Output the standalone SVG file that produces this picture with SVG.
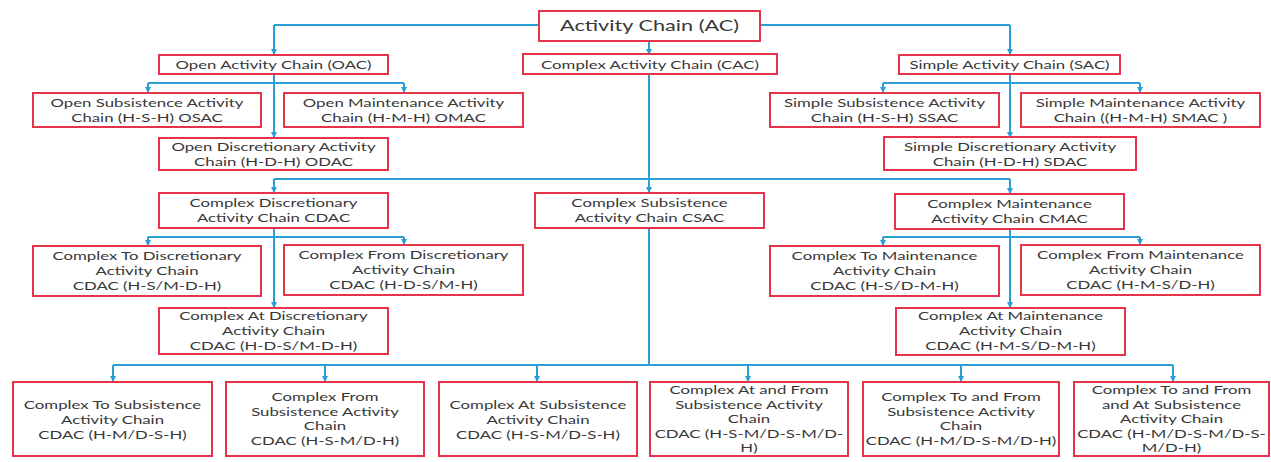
<svg xmlns="http://www.w3.org/2000/svg" width="1271" height="462" viewBox="0 0 1271 462">
<defs>
<style>
.box{fill:#ffffff;stroke:#e5344a;stroke-width:2}
.t{font-family:Lato,"Liberation Sans",sans-serif;font-size:12px;fill:#383838;text-anchor:middle}
.root{font-size:15.5px}
.c{fill:none;stroke:#2a9fd6;stroke-width:2}
.a{fill:none;stroke:#2a9fd6;stroke-width:2;marker-end:url(#ar)}
</style>
<marker id="ar" markerWidth="6" markerHeight="6" refX="5" refY="3" orient="auto" markerUnits="userSpaceOnUse">
<path d="M0,0 L6,3 L0,6 Z" fill="#2a9fd6"/>
</marker>
</defs>
<rect width="1271" height="462" fill="#ffffff"/>
<g id="connectors">
<path class="c" d="M539,25 H274"/><path class="a" d="M274,25 V54"/>
<path class="a" d="M649,41 V54"/>
<path class="c" d="M760,25 H1010"/><path class="a" d="M1010,25 V54"/>
<path class="a" d="M274,74 V137"/>
<path class="c" d="M148,83 H404"/><path class="a" d="M148,83 V92"/><path class="a" d="M404,83 V92"/>
<path class="a" d="M1010,74 V137"/>
<path class="c" d="M883,83 H1140"/><path class="a" d="M883,83 V92"/><path class="a" d="M1140,83 V92"/>
<path class="a" d="M649,74 V192"/>
<path class="c" d="M274,179 H1010"/><path class="a" d="M274,179 V192"/><path class="a" d="M1010,179 V193"/>
<path class="a" d="M274,228 V307"/>
<path class="c" d="M148,237 H404"/><path class="a" d="M148,237 V245"/><path class="a" d="M404,237 V244"/>
<path class="a" d="M1010,229 V307"/>
<path class="c" d="M883,237 H1140"/><path class="a" d="M883,237 V245"/><path class="a" d="M1140,237 V244"/>
<path class="c" d="M649,228 V365"/>
<path class="c" d="M113,365 H1173"/>
<path class="a" d="M113,365 V381"/><path class="a" d="M325,365 V381"/><path class="a" d="M537,365 V381"/>
<path class="a" d="M748,365 V381"/><path class="a" d="M961,365 V381"/><path class="a" d="M1173,365 V381"/>
</g>
<g id="ac"><rect class="box" x="539" y="11" width="221" height="30"/><g transform="translate(649.5,0) scale(1.4,1)"><text class="t root" x="0" y="31.5">Activity Chain (AC)</text></g></g>
<g id="oac"><rect class="box" x="159" y="55" width="229" height="19"/><g transform="translate(273.5,0) scale(1.4,1)"><text class="t" x="0" y="69">Open Activity Chain (OAC)</text></g></g>
<g id="cac"><rect class="box" x="523" y="54" width="254" height="20"/><g transform="translate(650,0) scale(1.4,1)"><text class="t" x="0" y="69">Complex Activity Chain (CAC)</text></g></g>
<g id="sac"><rect class="box" x="899" y="55" width="221" height="19"/><g transform="translate(1009.5,0) scale(1.4,1)"><text class="t" x="0" y="69">Simple Activity Chain (SAC)</text></g></g>
<g id="osac"><rect class="box" x="33" y="93" width="228" height="34"/><g transform="translate(147,0) scale(1.4,1)"><text class="t" x="0" y="107">Open Subsistence Activity</text><text class="t" x="0" y="122">Chain (H-S-H) OSAC</text></g></g>
<g id="omac"><rect class="box" x="284" y="93" width="239" height="34"/><g transform="translate(403.5,0) scale(1.4,1)"><text class="t" x="0" y="107">Open Maintenance Activity</text><text class="t" x="0" y="122">Chain (H-M-H) OMAC</text></g></g>
<g id="odac"><rect class="box" x="159" y="138" width="229" height="32"/><g transform="translate(273.5,0) scale(1.4,1)"><text class="t" x="0" y="151">Open Discretionary Activity</text><text class="t" x="0" y="166">Chain (H-D-H) ODAC</text></g></g>
<g id="ssac"><rect class="box" x="770" y="93" width="229" height="34"/><g transform="translate(884.5,0) scale(1.4,1)"><text class="t" x="0" y="107">Simple Subsistence Activity</text><text class="t" x="0" y="122">Chain (H-S-H) SSAC</text></g></g>
<g id="smac"><rect class="box" x="1021" y="93" width="239" height="34"/><g transform="translate(1140.5,0) scale(1.4,1)"><text class="t" x="0" y="107">Simple Maintenance Activity</text><text class="t" x="0" y="122">Chain ((H-M-H) SMAC )</text></g></g>
<g id="sdac"><rect class="box" x="884" y="137" width="252" height="33"/><g transform="translate(1010,0) scale(1.4,1)"><text class="t" x="0" y="151">Simple Discretionary Activity</text><text class="t" x="0" y="166">Chain (H-D-H) SDAC</text></g></g>
<g id="cdac"><rect class="box" x="159" y="193" width="229" height="35"/><g transform="translate(273.5,0) scale(1.4,1)"><text class="t" x="0" y="207">Complex Discretionary</text><text class="t" x="0" y="222">Activity Chain CDAC</text></g></g>
<g id="csac"><rect class="box" x="535" y="193" width="229" height="35"/><g transform="translate(649.5,0) scale(1.4,1)"><text class="t" x="0" y="207">Complex Subsistence</text><text class="t" x="0" y="222">Activity Chain CSAC</text></g></g>
<g id="cmac"><rect class="box" x="895" y="194" width="229" height="35"/><g transform="translate(1009.5,0) scale(1.4,1)"><text class="t" x="0" y="208">Complex Maintenance</text><text class="t" x="0" y="223">Activity Chain CMAC</text></g></g>
<g id="ctd"><rect class="box" x="33" y="246" width="228" height="50"/><g transform="translate(147,0) scale(1.4,1)"><text class="t" x="0" y="260.5">Complex To Discretionary</text><text class="t" x="0" y="275.5">Activity Chain</text><text class="t" x="0" y="290.5">CDAC (H-S/M-D-H)</text></g></g>
<g id="cfd"><rect class="box" x="284" y="245" width="239" height="50"/><g transform="translate(403.5,0) scale(1.4,1)"><text class="t" x="0" y="259.5">Complex From Discretionary</text><text class="t" x="0" y="274.5">Activity Chain</text><text class="t" x="0" y="289.5">CDAC (H-D-S/M-H)</text></g></g>
<g id="cad"><rect class="box" x="159" y="308" width="229" height="46"/><g transform="translate(273.5,0) scale(1.4,1)"><text class="t" x="0" y="320.5">Complex At Discretionary</text><text class="t" x="0" y="335.5">Activity Chain</text><text class="t" x="0" y="350.5">CDAC (H-D-S/M-D-H)</text></g></g>
<g id="ctm"><rect class="box" x="770" y="246" width="229" height="50"/><g transform="translate(884.5,0) scale(1.4,1)"><text class="t" x="0" y="260.5">Complex To Maintenance</text><text class="t" x="0" y="275.5">Activity Chain</text><text class="t" x="0" y="290.5">CDAC (H-S/D-M-H)</text></g></g>
<g id="cfm"><rect class="box" x="1021" y="245" width="239" height="50"/><g transform="translate(1140.5,0) scale(1.4,1)"><text class="t" x="0" y="259.5">Complex From Maintenance</text><text class="t" x="0" y="274.5">Activity Chain</text><text class="t" x="0" y="289.5">CDAC (H-M-S/D-H)</text></g></g>
<g id="cam"><rect class="box" x="896" y="308" width="229" height="47"/><g transform="translate(1010.5,0) scale(1.4,1)"><text class="t" x="0" y="320.5">Complex At Maintenance</text><text class="t" x="0" y="335.5">Activity Chain</text><text class="t" x="0" y="350.5">CDAC (H-M-S/D-M-H)</text></g></g>
<g id="cts"><rect class="box" x="13" y="382" width="199" height="74"/><g transform="translate(112.5,0) scale(1.4,1)"><text class="t" x="0" y="409.5">Complex To Subsistence</text><text class="t" x="0" y="424.5">Activity Chain</text><text class="t" x="0" y="439.5">CDAC (H-M/D-S-H)</text></g></g>
<g id="cfs"><rect class="box" x="226" y="382" width="198" height="74"/><g transform="translate(325,0) scale(1.4,1)"><text class="t" x="0" y="401.5">Complex From</text><text class="t" x="0" y="416">Subsistence Activity</text><text class="t" x="0" y="430.5">Chain</text><text class="t" x="0" y="445">CDAC (H-S-M/D-H)</text></g></g>
<g id="cas"><rect class="box" x="439" y="382" width="198" height="74"/><g transform="translate(538,0) scale(1.4,1)"><text class="t" x="0" y="409.5">Complex At Subsistence</text><text class="t" x="0" y="424.5">Activity Chain</text><text class="t" x="0" y="439.5">CDAC (H-S-M/D-S-H)</text></g></g>
<g id="cafs"><rect class="box" x="650" y="382" width="198" height="74"/><g transform="translate(749,0) scale(1.4,1)"><text class="t" x="0" y="394.5">Complex At and From</text><text class="t" x="0" y="409">Subsistence Activity</text><text class="t" x="0" y="423.5">Chain</text><text class="t" x="0" y="438">CDAC (H-S-M/D-S-M/D-</text><text class="t" x="0" y="452.5">H)</text></g></g>
<g id="ctfs"><rect class="box" x="863" y="382" width="196" height="74"/><g transform="translate(961,0) scale(1.4,1)"><text class="t" x="0" y="401.5">Complex To and From</text><text class="t" x="0" y="416">Subsistence Activity</text><text class="t" x="0" y="430.5">Chain</text><text class="t" x="0" y="445">CDAC (H-M/D-S-M/D-H)</text></g></g>
<g id="ctfas"><rect class="box" x="1074" y="382" width="195" height="74"/><g transform="translate(1171.5,0) scale(1.4,1)"><text class="t" x="0" y="394.5">Complex To and From</text><text class="t" x="0" y="409">and At Subsistence</text><text class="t" x="0" y="423.5">Activity Chain</text><text class="t" x="0" y="438">CDAC (H-M/D-S-M/D-S-</text><text class="t" x="0" y="452.5">M/D-H)</text></g></g>
</svg>
